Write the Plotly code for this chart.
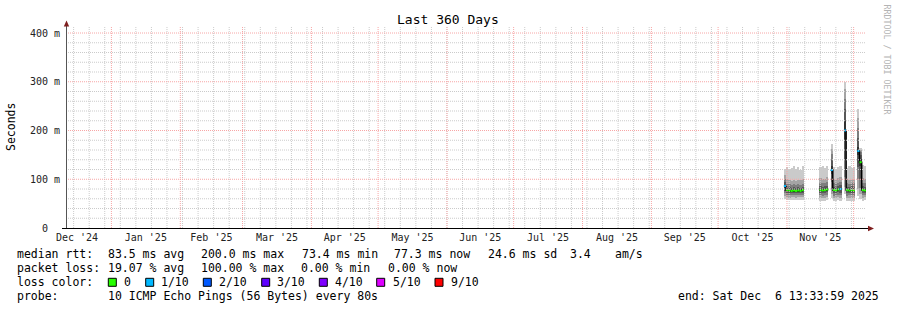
import plotly.graph_objects as go
from datetime import datetime, timedelta

# ------------------------------------------------------------------ data
# one consolidated step per day (step start, local time 15:00); None = no data
step_dates = ["2025-10-30", "2025-10-31", "2025-11-01", "2025-11-02", "2025-11-03",
              "2025-11-04", "2025-11-05", "2025-11-06", "2025-11-07",
              "2025-11-15", "2025-11-16", "2025-11-17", "2025-11-18", "2025-11-19",
              "2025-11-20", "2025-11-21", "2025-11-22", "2025-11-23", "2025-11-24",
              "2025-11-25", "2025-11-26", "2025-11-27", "2025-11-28", "2025-11-29",
              "2025-11-30", "2025-12-01", "2025-12-02", "2025-12-03", "2025-12-04",
              "2025-12-05"]

# sorted ping round-trip times (ms), rank 1 (fastest) .. rank 10 (slowest)
ping1 = [60, 58, 57, 57, 58, 57, 57, 58, 57, 56, 55, 56, 57, None, 62, 55, 56, 57, 56, None, 70, 55, 56, 56, 55, None, 66, 60, 56, 57]
ping2 = [66, 63, 62, 63, 63, 62, 63, 63, 63, 62, 61, 62, 63, None, 70, 61, 62, 63, 62, None, 85, 61, 62, 62, 61, None, 80, 70, 62, 63]
ping3 = [71, 68, 67, 68, 68, 67, 68, 67, 68, 67, 66, 67, 68, None, 80, 66, 67, 68, 67, None, 105, 66, 67, 67, 66, None, 100, 82, 67, 68]
ping4 = [76, 72, 72, 72, 72, 71, 72, 71, 72, 72, 71, 72, 73, None, 95, 71, 72, 73, 72, None, 140, 71, 72, 72, 71, None, 125, 100, 72, 72]
ping5 = [83, 76, 75, 75, 76, 75, 76, 75, 76, 76, 75, 76, 77, None, 110, 76, 75, 77, 77, None, 180, 76, 75, 76, 75, None, 150, 128, 76, 75]
ping6 = [89, 80, 79, 78, 79, 78, 79, 78, 80, 80, 79, 80, 81, None, 128, 80, 79, 81, 83, None, 220, 80, 79, 80, 79, None, 166, 142, 80, 79]
ping7 = [94, 85, 84, 83, 84, 83, 84, 83, 85, 86, 85, 86, 87, None, 140, 85, 84, 86, 88, None, 245, 85, 84, 86, 85, None, 185, 150, 86, 85]
ping8 = [100, 91, 90, 89, 90, 88, 90, 89, 91, 93, 92, 92, 94, None, 152, 92, 91, 93, 95, None, 265, 92, 91, 93, 92, None, 205, 156, 93, 92]
ping9 = [108, 100, 99, 97, 98, 97, 99, 98, 100, 102, 101, 100, 104, None, 162, 101, 99, 102, 104, None, 285, 100, 99, 101, 100, None, 225, 160, 103, 101]
ping10 = [122, 126, 121, 124, 128, 122, 125, 120, 127, 126, 128, 124, 127, None, 172, 125, 122, 126, 128, None, 300, 124, 127, 123, 126, None, 244, 164, 130, 127]

median_rtt = [86, 78, 77, 76, 77, 76, 77, 76, 78, 78, 77, 78, 79, None, 119, 78, 77, 79, 80, None, 200, 78, 77, 78, 77, None, 158, 135, 78, 77]
loss_count = [1, 0, 0, 0, 0, 0, 0, 0, 0, 0, 0, 0, 0, None, 1, 0, 0, 0, 1, None, 1, 0, 0, 0, 0, None, 1, 0, 0, 0]

x_start = "2024-12-11 13:33:59"
x_end = "2025-12-06 13:33:59"

y_tick_values = [0, 100, 200, 300, 400]
y_tick_labels = ["0\u00a0\u00a0", "100 m", "200 m", "300 m", "400 m"]

loss_labels = ["0", "1/10", "2/10", "3/10", "4/10", "5/10", "9/10"]
loss_levels = [0, 1, 2, 3, 4, 5, 9]

rtt_texts = ["median rtt:", "83.5 ms avg", "200.0 ms max", "73.4 ms min", "77.3 ms now", "24.6 ms sd", "3.4", "am/s"]
loss_texts = ["packet loss:", "19.07 % avg", "100.00 % max", "0.00 % min", "0.00 % now"]
probe_texts = ["probe:", "10 ICMP Echo Pings (56 Bytes) every 80s"]
end_text = "end: Sat Dec\u00a0\u00a06 13:33:59 2025"

# ------------------------------------------------------------------ styles
loss_colors = ["#26ff00", "#00b8ff", "#0059ff", "#5e00ff", "#7e00ff", "#dd00ff", "#ff0000"]
smoke_colors = ["#cacaca", "#a4a4a4", "#7e7e7e", "#585858", "#323232"]
FONT = "DejaVu Sans Mono"
MGRID = "#f7a6a6"
GRID = "#cbcbcb"

L, R, T, B = 66, 866, 27, 228          # plot area in pixels
W, H = 897, 310


def pxx(x):
    return (x - L) / (R - L)


def pxy(y):
    return (B - y) / (B - T)


step = timedelta(days=1)
times = [datetime.fromisoformat(d) + timedelta(hours=15) for d in step_dates]
pings = [ping1, ping2, ping3, ping4, ping5, ping6, ping7, ping8, ping9, ping10]

# grid positions: weekly (Sunday) and 20 ms minor lines, monthly and 100 ms major lines
week_grid = []
wk = datetime(2024, 12, 15)
while wk < datetime(2025, 12, 7):
    week_grid.append(wk)
    wk += timedelta(days=7)
month_grid = [datetime(2025, m, 1) for m in range(1, 13)]
ms_grid = [v for v in range(20, 420, 20) if v % 100 != 0]
ms_major = [100, 200, 300, 400]

fig = go.Figure()

# smoke: bands between rank i and rank 11-i, lighter outside, darker inside
for i in range(5):
    lo, hi = pings[i], pings[9 - i]
    xs, ys, bs = [], [], []
    for t, a, b in zip(times, lo, hi):
        if a is None or b is None:
            continue
        xs.append(t)
        ys.append(b - a)
        bs.append(a)
    fig.add_trace(go.Bar(x=xs, y=ys, base=bs, width=[step.total_seconds() * 1000] * len(xs),
                         offset=0, marker=dict(color=smoke_colors[i], line=dict(width=0)),
                         hoverinfo="skip"))

# median line (black connectors) built from the median values
mx, my = [], []
prev_end = None
for t, m in zip(times, median_rtt):
    if m is None:
        continue
    if prev_end is not None and t != prev_end:
        mx.append(None)
        my.append(None)
    mx += [t, t + step]
    my += [m, m]
    prev_end = t + step
fig.add_trace(go.Scatter(x=mx, y=my, mode="lines", line=dict(color="#000000", width=1.5),
                         hoverinfo="skip"))

# median segments coloured by loss
for lvl, col in zip(loss_levels, loss_colors):
    sx, sy = [], []
    for t, m, lc in zip(times, median_rtt, loss_count):
        if m is None or lc != lvl:
            continue
        sx += [t, t + step, None]
        sy += [m, m, None]
    if sx:
        fig.add_trace(go.Scatter(x=sx, y=sy, mode="lines", line=dict(color=col, width=2),
                                 hoverinfo="skip"))

fig.update_layout(
    width=W, height=H,
    margin=dict(l=L, r=W - R, t=T, b=H - B),
    paper_bgcolor="white", plot_bgcolor="white",
    showlegend=False, barmode="overlay", bargap=0,
    font=dict(family=FONT, size=10, color="#000000"),
)

fig.update_xaxes(
    type="date", range=[x_start, x_end],
    dtick="M1", tick0="2024-12-01", tickformat="%b '%y", ticklabelmode="period",
    showgrid=False, ticks="", ticklabelstandoff=2,
    tickfont=dict(family=FONT, size=10, color="#222222"),
    showline=False, zeroline=False,
)
fig.update_yaxes(
    range=[0, 412.3], tickvals=y_tick_values, ticktext=y_tick_labels,
    showgrid=False, ticks="", ticklabelstandoff=5,
    tickfont=dict(family=FONT, size=10, color="#222222"),
    showline=False, zeroline=False,
)

shapes = []
# grid (drawn on top of the smoke, as rrdtool does)
for g in week_grid:
    shapes.append(dict(type="line", xref="x", yref="paper", x0=g, x1=g, y0=0, y1=1,
                       layer="above", line=dict(color=GRID, width=1, dash="1px,1px")))
for g in ms_grid:
    shapes.append(dict(type="line", xref="paper", yref="y", x0=0, x1=1, y0=g, y1=g,
                       layer="above", line=dict(color=GRID, width=1, dash="1px,1px")))
for g in month_grid:
    shapes.append(dict(type="line", xref="x", yref="paper", x0=g, x1=g, y0=0, y1=1,
                       layer="above", line=dict(color=MGRID, width=1, dash="1px,1px")))
for g in ms_major:
    shapes.append(dict(type="line", xref="paper", yref="y", x0=0, x1=1, y0=g, y1=g,
                       layer="above", line=dict(color=MGRID, width=1, dash="1px,1px")))

# axes with arrows
shapes.append(dict(type="line", xref="paper", yref="paper", x0=pxx(66.5), x1=pxx(66.5),
                   y0=pxy(228), y1=pxy(24), line=dict(color="#555555", width=1)))
shapes.append(dict(type="line", xref="paper", yref="paper", x0=pxx(62), x1=pxx(869),
                   y0=pxy(228.5), y1=pxy(228.5), line=dict(color="#000000", width=1)))
shapes.append(dict(type="path", xref="paper", yref="paper",
                   path=f"M {pxx(63.8)} {pxy(26.5)} L {pxx(69.2)} {pxy(26.5)} L {pxx(66.5)} {pxy(20.5)} Z",
                   fillcolor="#7f1f1f", line=dict(width=0)))
shapes.append(dict(type="path", xref="paper", yref="paper",
                   path=f"M {pxx(868)} {pxy(225.8)} L {pxx(868)} {pxy(231.2)} L {pxx(874)} {pxy(228.5)} Z",
                   fillcolor="#7f1f1f", line=dict(width=0)))

annotations = []


def txt(s, x, y, size=11.5, anchor="left", color="#000000", angle=0):
    annotations.append(dict(text=s, x=pxx(x), y=pxy(y), xref="paper", yref="paper",
                            xanchor=anchor, yanchor="middle", showarrow=False,
                            borderpad=0, textangle=angle,
                            font=dict(family=FONT, size=size, color=color)))


txt("Last 360 Days", 448, 19.5, size=13, anchor="center")
txt("Seconds", 11, 127, size=11.5, anchor="center", angle=-90)
txt("RRDTOOL / TOBI OETIKER", 886.5, 59, size=8.3, anchor="center", color="#b4b4b4", angle=90)

rtt_x = [16, 107, 200, 301, 393, 487, 569, 614]
for s, x in zip(rtt_texts, rtt_x):
    txt(s, x, 254)
loss_x = [16, 107, 200, 300, 387]
for s, x in zip(loss_texts, loss_x):
    txt(s, x, 268)
txt("loss color:", 16, 282)
box_x = [108.3, 145.7, 203.3, 261.7, 319.3, 376.7, 435]
lbl_x = [123.3, 160, 218.3, 276, 334, 391.7, 450]
for lab, col, bx, lx in zip(loss_labels, loss_colors, box_x, lbl_x):
    shapes.append(dict(type="rect", xref="paper", yref="paper",
                       x0=pxx(bx), x1=pxx(bx + 8), y0=pxy(278.3), y1=pxy(286.3),
                       fillcolor=col, line=dict(color="#000000", width=1)))
    txt(lab, lx, 282)
probe_x = [16, 107]
for s, x in zip(probe_texts, probe_x):
    txt(s, x, 296)
txt(end_text, 880, 296, anchor="right")

fig.update_layout(shapes=shapes, annotations=annotations)
fig.write_html("out.html")
